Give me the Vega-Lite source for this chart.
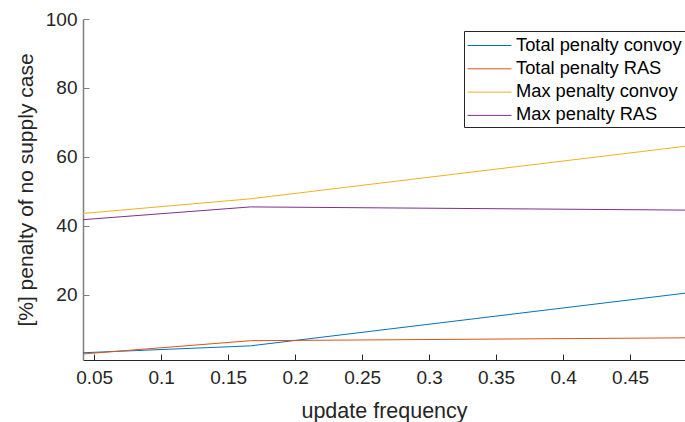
{
  "$schema": "https://vega.github.io/schema/vega-lite/v6.json",
  "autosize": {"type": "none"},
  "width": 602,
  "height": 341,
  "padding": {"left": 83, "top": 19, "right": 0, "bottom": 62},
  "background": "white",
  "config": {
    "view": {"stroke": null},
    "font": "Liberation Sans",
    "axis": {"grid": false, "domainColor": "#262626", "tickColor": "#262626", "labelColor": "#262626", "titleColor": "#262626", "labelFont": "Liberation Sans", "titleFont": "Liberation Sans", "titleFontWeight": "normal"}
  },
  "data": {
    "values": [
      {"freq": 0.041667, "value": 3.2, "series": "Total penalty convoy"},
      {"freq": 0.166667, "value": 5.2, "series": "Total penalty convoy"},
      {"freq": 0.5, "value": 20.9, "series": "Total penalty convoy"},
      {"freq": 0.041667, "value": 2.85, "series": "Total penalty RAS"},
      {"freq": 0.166667, "value": 6.7, "series": "Total penalty RAS"},
      {"freq": 0.5, "value": 7.55, "series": "Total penalty RAS"},
      {"freq": 0.041667, "value": 43.6, "series": "Max penalty convoy"},
      {"freq": 0.166667, "value": 47.85, "series": "Max penalty convoy"},
      {"freq": 0.5, "value": 63.5, "series": "Max penalty convoy"},
      {"freq": 0.041667, "value": 41.8, "series": "Max penalty RAS"},
      {"freq": 0.166667, "value": 45.5, "series": "Max penalty RAS"},
      {"freq": 0.5, "value": 44.55, "series": "Max penalty RAS"}
    ]
  },
  "mark": {"type": "line", "strokeWidth": 1, "clip": true},
  "encoding": {
    "x": {
      "field": "freq", "type": "quantitative",
      "scale": {"domain": [0.041667, 0.491], "nice": false, "zero": false},
      "axis": {"values": [0.05, 0.1, 0.15, 0.2, 0.25, 0.3, 0.35, 0.4, 0.45], "format": "~g", "tickSize": -6, "labelPadding": 14, "labelFontSize": 19, "title": "update frequency", "titleFontSize": 21.5, "titlePadding": 13, "domainWidth": 1.2}
    },
    "y": {
      "field": "value", "type": "quantitative",
      "scale": {"domain": [1.1, 100], "nice": false, "zero": false},
      "axis": {"values": [20, 40, 60, 80, 100], "tickSize": -6, "labelPadding": 12, "labelFontSize": 19, "title": "[%] penalty of no supply case", "titleFontSize": 21, "titlePadding": 9, "domainColor": "#7f7f7f", "tickColor": "#7f7f7f", "domainWidth": 1.5}
    },
    "color": {
      "field": "series", "type": "nominal",
      "scale": {"domain": ["Total penalty convoy", "Total penalty RAS", "Max penalty convoy", "Max penalty RAS"], "range": ["#0072BD", "#D95319", "#EDB120", "#7E2F8E"]},
      "legend": {"title": null, "orient": "none", "legendX": 381, "legendY": 12, "symbolType": "M-1,0H3", "symbolSize": 484, "symbolStrokeWidth": 1, "labelFontSize": 18.3, "labelColor": "#000000", "labelOffset": 26, "strokeColor": "#262626", "fillColor": "white", "padding": 3, "rowPadding": 3.3, "labelLimit": 300}
    }
  }
}
